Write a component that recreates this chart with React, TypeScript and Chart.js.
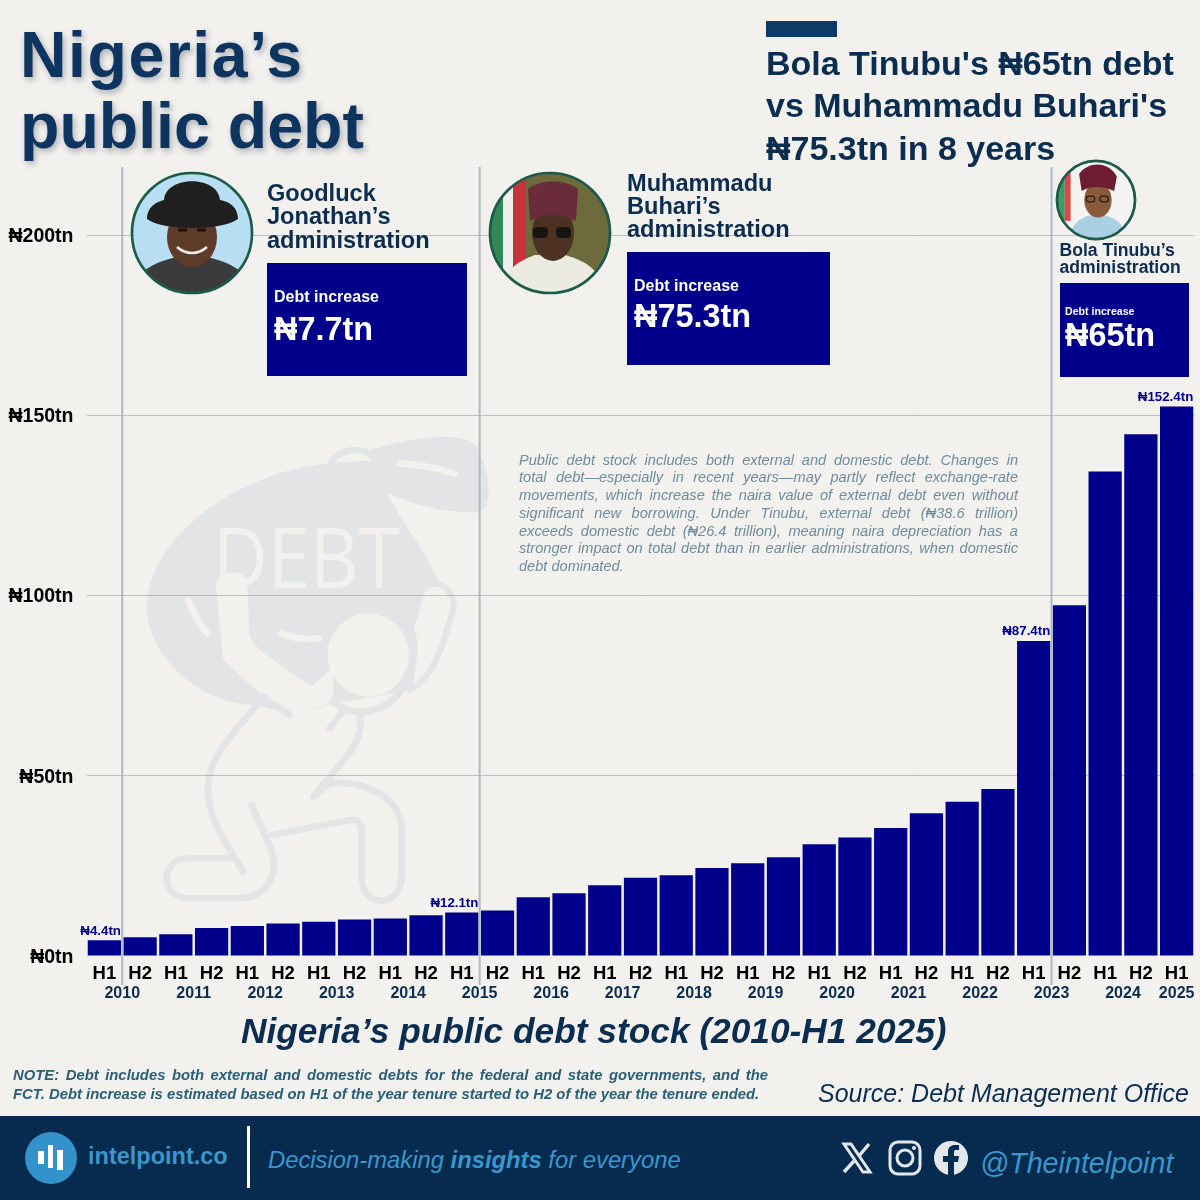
import { useEffect, useRef } from 'react'
import type { CSSProperties, ReactNode } from 'react'
import { Chart, registerables } from 'chart.js'

Chart.register(...registerables)

const FONT = '"Liberation Sans", Arial, sans-serif'
const NAVY = '#0b2d50'
const BAR = '#00008b'
const PAGE = '#f2f1ee'
const MARK = '#e2e4e6'
const SKY = '#3a97cc'

const halves = [
  'H1', 'H2', 'H1', 'H2', 'H1', 'H2', 'H1', 'H2', 'H1', 'H2', 'H1', 'H2', 'H1', 'H2', 'H1', 'H2',
  'H1', 'H2', 'H1', 'H2', 'H1', 'H2', 'H1', 'H2', 'H1', 'H2', 'H1', 'H2', 'H1', 'H2', 'H1',
]
const years = ['2010', '2011', '2012', '2013', '2014', '2015', '2016', '2017', '2018', '2019', '2020', '2021', '2022', '2023', '2024', '2025']
const debt = [
  4.4, 5.2, 6.0, 7.8, 8.3, 9.0, 9.5, 10.1, 10.4, 11.3, 12.1, 12.6, 16.3, 17.4, 19.6, 21.7,
  22.4, 24.4, 25.7, 27.4, 31.0, 32.9, 35.5, 39.6, 42.8, 46.3, 87.4, 97.3, 134.4, 144.7, 152.4,
]
const labelledBars = [0, 10, 26, 30]
const handovers = [0, 10, 26]

const noteLines = [
  'Public debt stock includes both external and domestic debt. Changes in',
  'total debt—especially in recent years—may partly reflect exchange-rate',
  'movements, which increase the naira value of external debt even without',
  'significant new borrowing. Under Tinubu, external debt (₦38.6 trillion)',
  'exceeds domestic debt (₦26.4 trillion), meaning naira depreciation has a',
  'stronger impact on total debt than in earlier administrations, when domestic',
  'debt dominated.',
]

const overlayPlugin = {
  id: 'overlay',
  afterDatasetsDraw(chart: any) {
    const { ctx, scales } = chart
    const bars = chart.getDatasetMeta(0).data
    ctx.save()
    // tenure changes, halfway between two bars
    ctx.strokeStyle = '#aeb8c6'
    ctx.lineWidth = 2
    handovers.forEach((i) => {
      const x = (scales.x.getPixelForValue(i) + scales.x.getPixelForValue(i + 1)) / 2
      ctx.beginPath()
      ctx.moveTo(x, 167)
      ctx.lineTo(x, 985)
      ctx.stroke()
    })
    ctx.fillStyle = BAR
    ctx.font = `bold 13.3px ${FONT}`
    ctx.textAlign = 'right'
    ctx.textBaseline = 'alphabetic'
    labelledBars.forEach((i) => {
      const bar = bars[i]
      ctx.fillText(`₦${debt[i].toFixed(1)}tn`, bar.x + bar.width / 2, bar.y - 5.5)
    })
    ctx.restore()
  },
}

function DebtChart() {
  const canvasRef = useRef<HTMLCanvasElement>(null)

  useEffect(() => {
    if (!canvasRef.current) return
    const chart = new Chart(canvasRef.current, {
      type: 'bar',
      data: {
        labels: halves,
        datasets: [{ data: debt, backgroundColor: BAR, barPercentage: 0.93, categoryPercentage: 1 }],
      },
      options: {
        animation: false,
        responsive: false,
        layout: { padding: { top: 235, left: 0, right: 5.5, bottom: 194 } },
        plugins: { legend: { display: false }, tooltip: { enabled: false } },
        scales: {
          x: {
            weight: 0,
            grid: { display: false, drawTicks: false },
            border: { display: false },
            ticks: { color: '#000', font: { family: FONT, size: 18.5, weight: 'bold' }, padding: 7, maxRotation: 0, autoSkip: false },
            afterFit: (scale: any) => { scale.height = 28 },
          },
          years: {
            type: 'linear',
            axis: 'x',
            position: 'bottom',
            weight: 1,
            offset: false,
            bounds: 'data',
            min: -0.5,
            max: 30.5,
            grid: { display: false, drawTicks: false },
            border: { display: false },
            afterBuildTicks: (scale: any) => {
              // each year sits under its two bars, 2025 only has H1
              scale.ticks = years.map((_, i) => ({ value: Math.min(i * 2 + 0.5, halves.length - 1) }))
            },
            ticks: {
              color: NAVY,
              font: { family: FONT, size: 16, weight: 'bold' },
              padding: 0,
              maxRotation: 0,
              autoSkip: false,
              callback: (_: any, i: number) => years[i],
            },
            afterFit: (scale: any) => { scale.height = 22 },
          },
          y: {
            min: 0,
            max: 200,
            grid: {
              color: (c: any) => (c.tick.value === 0 ? 'transparent' : 'rgba(120,120,120,0.42)'),
              drawTicks: false,
            },
            border: { display: false },
            ticks: {
              stepSize: 50,
              color: '#000',
              padding: 13,
              labelOffset: 1.5,
              font: { family: FONT, size: 19.5, weight: 'bold' },
              callback: (v: any) => `₦${v}tn`,
            },
            afterFit: (scale: any) => { scale.width = 86.5 },
          },
        },
      } as any,
      plugins: [overlayPlugin],
    })
    return () => chart.destroy()
  }, [])

  return <canvas ref={canvasRef} width={1200} height={1200} style={{ position: 'absolute', left: 0, top: 0, width: 1200, height: 1200 }} />
}

function Txt({ x, y, style, children }: { x: number; y: number; style?: CSSProperties; children: ReactNode }) {
  return <div style={{ position: 'absolute', left: x, top: y, whiteSpace: 'pre', ...style }}>{children}</div>
}

function Watermark() {
  const line = { fill: 'none', stroke: MARK, strokeWidth: 20, strokeLinecap: 'round' as const, strokeLinejoin: 'round' as const }
  const cut = { fill: 'none', stroke: PAGE, strokeWidth: 20, strokeLinecap: 'round' as const }
  return (
    <svg width={1200} height={1200} style={{ position: 'absolute', left: 0, top: 0 }}>
      <g transform="translate(130 420) scale(0.3333)">
        <path fill={MARK} d="M600,130 C350,150 60,330 50,560 C50,700 200,850 370,855 L480,880 L620,850 L840,810 C900,760 920,700 950,640 L930,490 C890,400 820,310 770,220 L745,120 Z" />
        <path fill={MARK} d="M720,90 C850,50 1000,30 1040,80 C1080,150 1090,260 1050,275 C950,285 850,250 770,220 Z" />
        <path {...line} d="M605,125 C630,85 710,70 745,130 L750,175" />
        <path fill={PAGE} d="M258,500 C260,450 345,440 352,490 L358,640 C365,680 400,700 545,800 L610,740 L610,845 L480,885 L400,830 L280,720 Z" />
        <path fill={PAGE} stroke={MARK} strokeWidth={18} strokeLinejoin="round" d="M875,515 C900,470 970,490 972,560 L945,650 C925,720 890,780 840,810 L855,680 L842,630 Z" />
        <ellipse cx={715} cy={705} rx={122} ry={125} fill={PAGE} />
        <path {...cut} d="M175,540 C190,580 210,615 232,640" />
        <path {...cut} d="M455,640 C490,655 530,660 568,655" />
        <path {...cut} d="M810,130 C870,135 930,145 975,162" />
        <path {...line} d="M610,845 C680,900 780,880 825,790 C860,720 855,650 842,630" />
        <path {...line} d="M600,925 L640,870" />
        <path {...line} d="M400,830 L478,885" />
        <path {...line} d="M385,850 C330,920 240,1000 235,1090 C225,1190 290,1270 340,1355" />
        <path {...line} d="M300,1315 L170,1315 C90,1320 90,1430 170,1435 L330,1435 C420,1430 450,1350 420,1280 L365,1155" />
        <path {...line} d="M425,1245 L660,1200 C690,1195 695,1220 695,1240 L695,1380 C700,1460 810,1470 815,1370 L815,1230 C815,1130 700,1080 600,1090 L550,1130" />
        <path {...line} d="M550,1130 L650,1010 C690,960 695,920 690,890" />
      </g>
      <text x={213} y={588} fill={PAGE} fontFamily='"Open Sans", sans-serif' fontSize={84} textLength={187} lengthAdjust="spacingAndGlyphs">DEBT</text>
    </svg>
  )
}

function Portrait({ id, cx, cy, r, children }: { id: string; cx: number; cy: number; r: number; children: ReactNode }) {
  return (
    <svg width={r * 2 + 6} height={r * 2 + 6} viewBox="-63 -63 126 126" style={{ position: 'absolute', left: cx - r - 3, top: cy - r - 3 }}>
      <clipPath id={id}><circle r={60} /></clipPath>
      <g clipPath={`url(#${id})`}>{children}</g>
      <circle r={60} fill="none" stroke="#1d5a4a" strokeWidth={62 / r * 2.6} />
    </svg>
  )
}

function Admin({ x, y, size, lineHeight, lines }: { x: number; y: number; size: number; lineHeight: number; lines: string[] }) {
  return (
    <Txt x={x} y={y} style={{ font: `bold ${size}px/${lineHeight}px ${FONT}`, color: NAVY }}>{lines.join('\n')}</Txt>
  )
}

function IncreaseBox({ x, y, w, h, labelSize, labelTop, amount, amountTop }: { x: number; y: number; w: number; h: number; labelSize: number; labelTop: number; amount: string; amountTop: number }) {
  return (
    <div style={{ position: 'absolute', left: x, top: y, width: w, height: h, background: BAR, color: '#fff' }}>
      <Txt x={labelSize > 12 ? 7 : 5.5} y={labelTop} style={{ font: `bold ${labelSize}px ${FONT}` }}>Debt increase</Txt>
      <Txt x={labelSize > 12 ? 7 : 5.5} y={amountTop} style={{ font: `bold 32.4px ${FONT}` }}>{amount}</Txt>
    </div>
  )
}

export default function App() {
  useEffect(() => {
    document.body.style.margin = '0'
  }, [])

  const titleStyle: CSSProperties = { font: `bold 64.5px/71px ${FONT}`, color: '#0e3460', textShadow: '2px 3px 6px rgba(40,50,70,0.35)' }

  return (
    <div style={{ position: 'absolute', left: 0, top: 0, width: 1200, height: 1200, overflow: 'hidden', background: PAGE, fontFamily: FONT }}>
      <Watermark />
      <DebtChart />

      <Txt x={20} y={20} style={{ ...titleStyle, letterSpacing: 1.5 }}>Nigeria’s</Txt>
      <Txt x={20} y={91} style={titleStyle}>public debt</Txt>
      <div style={{ position: 'absolute', left: 766, top: 21, width: 71, height: 16, background: '#0e3a68' }} />
      <Txt x={766} y={41.5} style={{ font: `bold 34px/42.5px ${FONT}`, color: NAVY }}>
        {"Bola Tinubu's ₦65tn debt\nvs Muhammadu Buhari's\n₦75.3tn in 8 years"}
      </Txt>

      <Portrait id="gj" cx={192} cy={233} r={60}>
        <rect x={-63} y={-63} width={126} height={126} fill="#b7def2" />
        <path d="M-60,60 C-58,35 -30,28 -16,24 L16,24 C30,28 58,35 60,60 Z" fill="#3b3b3d" />
        <ellipse cx={0} cy={4} rx={25} ry={30} fill="#5f3b29" />
        <path d="M-15,14 C-6,22 6,22 15,14" fill="none" stroke="#eee" strokeWidth={2.5} />
        <path d="M-14,-3 L-5,-3 M5,-3 L14,-3" stroke="#1c110c" strokeWidth={3} />
        <path d="M-45,-14 C-45,-28 -32,-32 -28,-33 C-26,-58 26,-58 28,-33 C34,-32 46,-28 46,-14 C30,-2 -30,-2 -45,-14 Z" fill="#1f1f20" />
      </Portrait>

      <Portrait id="mb" cx={550} cy={233} r={60}>
        <rect x={-63} y={-63} width={126} height={126} fill="#6d6a3c" />
        <rect x={-63} y={-63} width={16} height={126} fill="#2f8a58" />
        <rect x={-47} y={-63} width={10} height={126} fill="#efefef" />
        <rect x={-37} y={-63} width={13} height={126} fill="#c8323a" />
        <path d="M-50,60 C-45,32 -25,26 -15,22 L15,22 C28,26 50,32 55,60 Z" fill="#ecebe2" />
        <ellipse cx={3} cy={0} rx={21} ry={28} fill="#4d3223" />
        <path d="M-20,-12 L-22,-44 C-10,-54 16,-54 28,-44 L26,-12 C10,-20 -6,-20 -20,-12 Z" fill="#6a2b3a" />
        <rect x={-17} y={-6} width={15} height={11} rx={4} fill="#181412" />
        <rect x={6} y={-6} width={15} height={11} rx={4} fill="#181412" />
      </Portrait>

      <Portrait id="bt" cx={1095.5} cy={200} r={38}>
        <rect x={-63} y={-63} width={126} height={126} fill="#f3f3f1" />
        <rect x={-60} y={-63} width={12} height={95} fill="#3f9a68" />
        <rect x={-48} y={-63} width={9} height={95} fill="#d84a48" />
        <path d="M-42,60 C-36,32 -20,28 -12,24 L14,24 C26,28 42,32 48,60 Z" fill="#a9cfe2" />
        <ellipse cx={3} cy={0} rx={21} ry={27} fill="#8a5a3d" />
        <path d="M-22,-14 L-26,-40 C-12,-60 20,-60 32,-36 L28,-14 C10,-22 -8,-22 -22,-14 Z" fill="#6e1c33" />
        <rect x={-15} y={-6} width={13} height={9} rx={4} fill="none" stroke="#2a1d16" strokeWidth={2} />
        <rect x={6} y={-6} width={13} height={9} rx={4} fill="none" stroke="#2a1d16" strokeWidth={2} />
      </Portrait>

      <Admin x={267} y={182} size={23.6} lineHeight={23.3} lines={['Goodluck', 'Jonathan’s', 'administration']} />
      <IncreaseBox x={267} y={263} w={200} h={113} labelSize={16} labelTop={25} amount="₦7.7tn" amountTop={47.5} />

      <Admin x={627} y={172} size={23.6} lineHeight={23} lines={['Muhammadu', 'Buhari’s', 'administration']} />
      <IncreaseBox x={627} y={251.5} w={203} h={113.5} labelSize={16} labelTop={25.5} amount="₦75.3tn" amountTop={46.5} />

      <Admin x={1059.5} y={242} size={17.6} lineHeight={17} lines={['Bola Tinubu’s', 'administration']} />
      <IncreaseBox x={1059.5} y={283} w={129} h={94} labelSize={10.6} labelTop={21.5} amount="₦65tn" amountTop={34} />

      <div style={{ position: 'absolute', left: 519, top: 451.5, width: 499, font: `italic 14.6px/17.8px ${FONT}`, color: '#6f8c9c' }}>
        {noteLines.map((text, i) => (
          <div key={i} style={{ textAlign: i === noteLines.length - 1 ? 'left' : 'justify', textAlignLast: i === noteLines.length - 1 ? 'left' : 'justify' }}>{text}</div>
        ))}
      </div>

      <Txt x={241} y={1011} style={{ font: `italic bold 35.3px ${FONT}`, color: NAVY }}>Nigeria’s public debt stock (2010-H1 2025)</Txt>

      <div style={{ position: 'absolute', left: 13, top: 1066, width: 755, font: `italic bold 14.85px/18.5px ${FONT}`, color: '#2a5f75' }}>
        <div style={{ textAlign: 'justify', textAlignLast: 'justify' }}>NOTE: Debt includes both external and domestic debts for the federal and state governments, and the</div>
        <div style={{ whiteSpace: 'nowrap' }}>FCT. Debt increase is estimated based on H1 of the year tenure started to H2 of the year the tenure ended.</div>
      </div>
      <Txt x={818} y={1079} style={{ font: `italic 25px ${FONT}`, color: NAVY }}>Source: Debt Management Office</Txt>

      <div style={{ position: 'absolute', left: 0, top: 1116, width: 1200, height: 84, background: '#072b4f' }}>
        <svg width={80} height={84} style={{ position: 'absolute', left: 11, top: 0 }}>
          <circle cx={40} cy={42} r={26} fill="#3292c9" />
          <rect x={27} y={35} width={6} height={13} fill="#fff" />
          <rect x={37} y={29} width={5} height={23} fill="#fff" />
          <rect x={46} y={34} width={6} height={20} fill="#fff" />
        </svg>
        <Txt x={88} y={27} style={{ font: `bold 23.5px ${FONT}`, color: SKY }}>intelpoint.co</Txt>
        <div style={{ position: 'absolute', left: 247, top: 10, width: 3, height: 62, background: '#fff' }} />
        <Txt x={268} y={30} style={{ font: `italic 23.8px ${FONT}`, color: SKY }}>
          Decision-making <b>insights</b> for everyone
        </Txt>
        <svg width={140} height={50} style={{ position: 'absolute', left: 835, top: 20 }}>
          <g fill="none" stroke="#e4e7ea" strokeWidth={2.4}>
            <path d="M9,8 L16,8 L35,36 L28,36 Z" strokeWidth={3} />
            <path d="M34,8 L24,20 M19,25 L9,36" strokeWidth={3.4} />
            <rect x={55} y={6} width={30} height={32} rx={8} strokeWidth={3} />
            <circle cx={70} cy={22} r={8} strokeWidth={3} />
          </g>
          <circle cx={79} cy={12} r={2} fill="#e4e7ea" />
          <circle cx={116} cy={22} r={17} fill="#e4e7ea" />
          <path d="M113,39 L113,26 L108,26 L108,20 L113,20 L113,16 C113,11 116,9 120,9 L124,9 L124,14 L121,14 C119,14 119,15 119,17 L119,20 L124,20 L123,26 L119,26 L119,39 Z" fill="#072b4f" />
        </svg>
        <Txt x={980} y={31} style={{ font: `italic 28.7px ${FONT}`, color: SKY }}>@Theintelpoint</Txt>
      </div>
    </div>
  )
}
